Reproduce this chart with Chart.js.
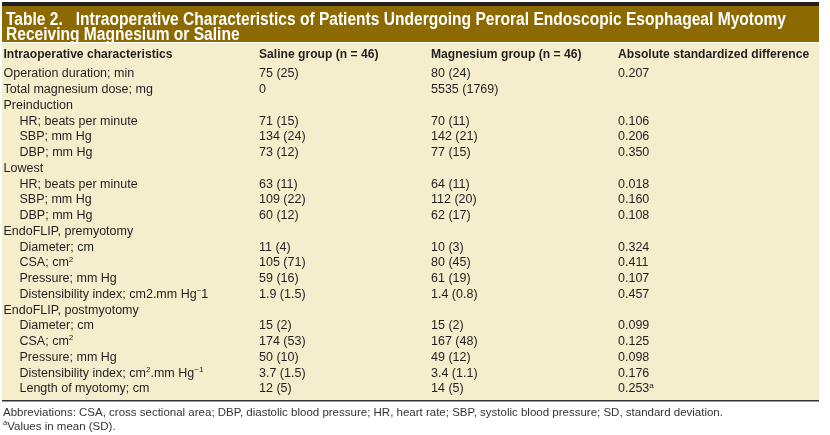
<!DOCTYPE html>
<html>
<head>
<meta charset="utf-8">
<script src="https://cdn.jsdelivr.net/npm/chart.js@4/dist/chart.umd.min.js"></script>
<style>
    html, body { margin: 0; padding: 0; background: #ffffff; }
    canvas { display: block; }
</style>
</head>
<body>
<canvas id="table2" width="830" height="435"></canvas>
<script>
// Table content. "^{...}" marks a superscript run.
const tableTitle = [
    'Table 2.   Intraoperative Characteristics of Patients Undergoing Peroral Endoscopic Esophageal Myotomy',
    'Receiving Magnesium or Saline',
];
const columnHeaders = ['Intraoperative characteristics', 'Saline group (n = 46)', 'Magnesium group (n = 46)', 'Absolute standardized difference'];

const rowLabels = [
    'Operation duration; min', 'Total magnesium dose; mg',
    'Preinduction', 'HR; beats per minute', 'SBP; mm Hg', 'DBP; mm Hg',
    'Lowest', 'HR; beats per minute', 'SBP; mm Hg', 'DBP; mm Hg',
    'EndoFLIP, premyotomy', 'Diameter; cm', 'CSA; cm^{2}', 'Pressure; mm Hg', 'Distensibility index; cm2.mm Hg^{\u2212}1',
    'EndoFLIP, postmyotomy', 'Diameter; cm', 'CSA; cm^{2}', 'Pressure; mm Hg', 'Distensibility index; cm^{2}.mm Hg^{\u22121}',
    'Length of myotomy; cm',
];
// 1 = sub row (indented under a group heading)
const rowIndent = [0, 0, 0, 1, 1, 1, 0, 1, 1, 1, 0, 1, 1, 1, 1, 0, 1, 1, 1, 1, 1];
const salineGroup = [
    '75 (25)', '0', '', '71 (15)', '134 (24)', '73 (12)', '', '63 (11)', '109 (22)', '60 (12)',
    '', '11 (4)', '105 (71)', '59 (16)', '1.9 (1.5)', '', '15 (2)', '174 (53)', '50 (10)', '3.7 (1.5)', '12 (5)',
];
const magnesiumGroup = [
    '80 (24)', '5535 (1769)', '', '70 (11)', '142 (21)', '77 (15)', '', '64 (11)', '112 (20)', '62 (17)',
    '', '10 (3)', '80 (45)', '61 (19)', '1.4 (0.8)', '', '15 (2)', '167 (48)', '49 (12)', '3.4 (1.1)', '14 (5)',
];
const absStdDifference = [
    '0.207', '', '', '0.106', '0.206', '0.350', '', '0.018', '0.160', '0.108',
    '', '0.324', '0.411', '0.107', '0.457', '', '0.099', '0.125', '0.098', '0.176', '0.253^{a}',
];
const footnotes = [
    'Abbreviations: CSA, cross sectional area; DBP, diastolic blood pressure; HR, heart rate; SBP, systolic blood pressure; SD, standard deviation.',
    '^{a}Values in mean (SD).',
];

// layout
const COL_X = [1.5, 257, 429, 616];
const INDENT = 16;
const HEADER_ROW = -0.21;

const GOLD = '#8c6a01';
const CREAM = '#f5eecc';
const INK = '#231f20';
const BODY_FONT = "12.5px 'Liberation Sans', Arial, sans-serif";
const HEAD_FONT = "bold 13.5px 'Liberation Sans', Arial, sans-serif";
const TITLE_FONT = "bold 17.5px 'Liberation Sans', Arial, sans-serif";
const NOTE_FONT = "11.5px 'Liberation Sans', Arial, sans-serif";

// width of one plain/superscript run sequence
function richWidth(ctx, text, font, size) {
    let w = 0;
    text.split(/(\^\{[^}]*\})/).filter((p) => p.length).forEach((p) => {
        const sup = p.startsWith('^{');
        ctx.font = sup ? font.replace(/[\d.]+px/, (size * 0.65).toFixed(1) + 'px') : font;
        w += ctx.measureText(sup ? p.slice(2, -1) : p).width;
    });
    return w;
}

function drawRich(ctx, text, x, y, font, size, sx = 1) {
    const parts = text.split(/(\^\{[^}]*\})/).filter((p) => p.length);
    ctx.save();
    ctx.translate(x, y);
    ctx.scale(sx, 1);
    let cx = 0;
    parts.forEach((p) => {
        if (p.startsWith('^{')) {
            const s = p.slice(2, -1);
            ctx.font = font.replace(/[\d.]+px/, (size * 0.65).toFixed(1) + 'px');
            ctx.fillText(s, cx, -size * 0.38);
            cx += ctx.measureText(s).width;
        } else {
            ctx.font = font;
            ctx.fillText(p, cx, 0);
            cx += ctx.measureText(p).width;
        }
    });
    ctx.restore();
}

const tablePlugin = {
    id: 'tablePlugin',
    beforeDraw(chart) {
        const { ctx, chartArea: a } = chart;
        ctx.save();
        ctx.fillStyle = INK;
        ctx.fillRect(a.left, a.top - 41, a.right - a.left, 4);
        ctx.fillStyle = GOLD;
        ctx.fillRect(a.left, a.top - 37, a.right - a.left, 36);
        ctx.fillStyle = CREAM;
        ctx.fillRect(a.left, a.top, a.right - a.left, a.bottom - a.top);
        ctx.fillStyle = '#333333';
        ctx.fillRect(a.left, a.bottom - 1, a.right - a.left, 1.5);
        ctx.restore();
    },
    afterDatasetsDraw(chart) {
        const { ctx, chartArea: a, scales } = chart;
        ctx.save();
        ctx.textBaseline = 'alphabetic';
        ctx.textAlign = 'left';

        // title, set in a condensed bold face
        ctx.fillStyle = '#ffffff';
        const titleSx = 780 / richWidth(ctx, tableTitle[0], TITLE_FONT, 17.5);
        tableTitle.forEach((line, i) => {
            drawRich(ctx, line, a.left + 4, a.top - 18 + i * 14.5, TITLE_FONT, 17.5, titleSx);
        });

        // column headers
        ctx.fillStyle = INK;
        const headSx = 169 / richWidth(ctx, columnHeaders[0], HEAD_FONT, 13.5);
        const hy = scales.y.getPixelForValue(HEADER_ROW);
        columnHeaders.forEach((h, i) => {
            drawRich(ctx, h, scales.x.getPixelForValue(COL_X[i]), hy, HEAD_FONT, 13.5, headSx);
        });

        // cells
        const columns = [rowLabels, salineGroup, magnesiumGroup, absStdDifference];
        columns.forEach((texts, ci) => {
            const meta = chart.getDatasetMeta(ci);
            meta.data.forEach((pt, ri) => {
                if (texts[ri]) drawRich(ctx, texts[ri], pt.x, pt.y, BODY_FONT, 12.5);
            });
        });

        // footnotes
        ctx.fillStyle = '#333333';
        footnotes.forEach((line, i) => {
            drawRich(ctx, line, a.left + 1, a.bottom + 15 + i * 13.5, NOTE_FONT, 11.5);
        });
        ctx.restore();
    },
};

const cellData = (col) => rowLabels.map((_, i) => ({
    x: COL_X[col] + (col === 0 ? rowIndent[i] * INDENT : 0),
    y: i + 1,
}));

new Chart(document.getElementById('table2'), {
    type: 'scatter',
    data: {
        datasets: [0, 1, 2, 3].map((c) => ({
            data: cellData(c),
            pointRadius: 0,
            clip: false,
        })),
    },
    options: {
        responsive: false,
        animation: false,
        events: [],
        layout: { padding: { left: 2, right: 11, top: 43, bottom: 34 } },
        plugins: { legend: { display: false }, tooltip: { enabled: false } },
        scales: {
            x: { type: 'linear', display: false, min: 0, max: 817 },
            y: { type: 'linear', display: false, reverse: true, min: -1.18, max: 21.55 },
        },
    },
    plugins: [tablePlugin],
});
</script>
</body>
</html>
